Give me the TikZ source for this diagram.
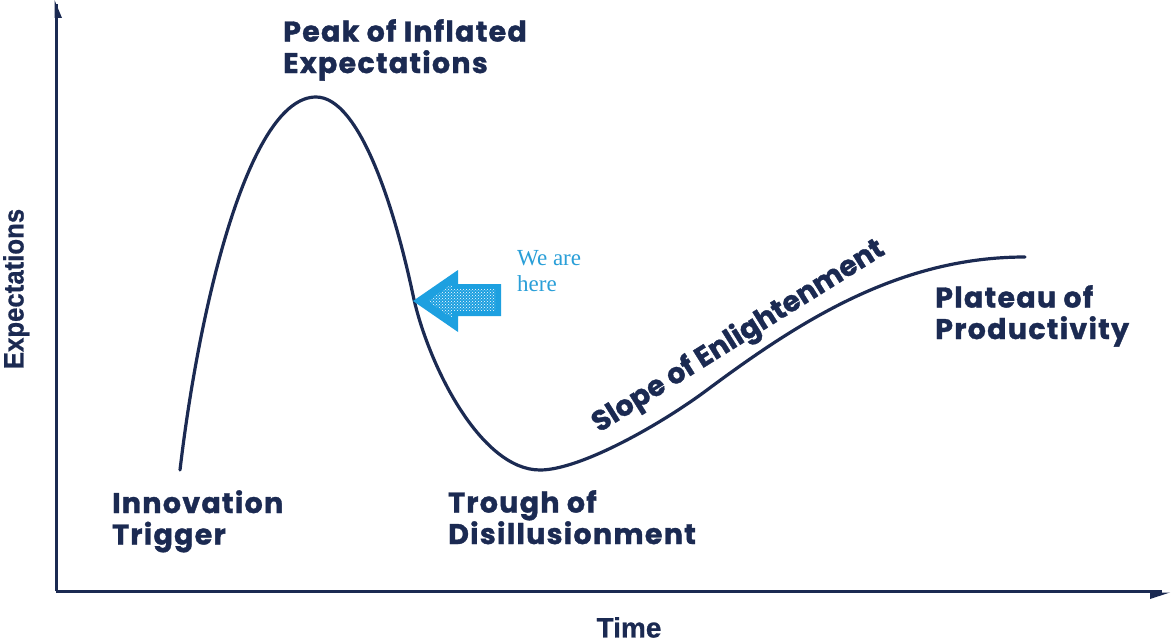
\documentclass[tikz,border=0pt]{standalone}
\usepackage{fontspec}
\setmainfont{Poppins}[BoldFeatures={FakeBold=1.2}]
\newfontfamily\stagefont{Poppins}[LetterSpace=4.5, BoldFeatures={FakeBold=1.2}]
\newfontfamily\axisfont{Liberation Sans}[BoldFeatures={FakeBold=0.8}]
\newfontfamily\notefont{Liberation Serif}
\usetikzlibrary{patterns}
\definecolor{navy}{HTML}{1B2A52}
\definecolor{skyblue}{HTML}{1DA0E0}
\definecolor{notecol}{HTML}{2A9FD8}
\tikzset{
  stage/.style={font=\stagefont\fontsize{28.5}{31.5}\selectfont\bfseries, text=navy, align=left, inner sep=0pt, anchor=north west},
  slopelabel/.style={font=\fontsize{28.5}{31.5}\selectfont\bfseries, text=navy, inner sep=0pt, anchor=base west},
  axislabel/.style={font=\axisfont\fontsize{28}{30}\selectfont\bfseries, text=navy, inner sep=0pt},
  axisline/.style={navy, line width=3pt},
  hype/.style={navy, line width=3.2pt, line cap=round, line join=round}
}
\begin{document}
\begin{tikzpicture}[x=1pt,y=-1pt]
\useasboundingbox (0,0) rectangle (1172,639);
\fill[white] (0,0) rectangle (1172,639);
% axes
\coordinate (O) at (56,591);
\coordinate (Ytop) at (56,4);
\coordinate (Xend) at (1162,591);
\draw[axisline] (O) -- (Ytop);
\draw[axisline] (O) -- (Xend);
\fill[navy] (54.5,0) -- (54.5,18) -- (62,18) -- cycle;
\fill[navy] (1170,592.5) -- (1150,592.5) -- (1150,599) -- cycle;
% curve
\draw[hype] (180,470) .. controls (200,300) and (250,97) .. (316,97)
  .. controls (360,97) and (395,210) .. (413,295)
  .. controls (427.4,363) and (480,470) .. (540,470)
  .. controls (580,470) and (660,425) .. (707,390)
  .. controls (801,320) and (900,257) .. (1025,257);
% labels
\node[stage] (peak) at (283,19) {Peak of Inflated\\Expectations};
\node[stage] (innov) at (112,490) {Innovation\\Trigger};
\node[stage] (trough) at (448,490) {Trough of\\Disillusionment};
\node[stage] (plateau) at (935,285) {Plateau of\\Productivity};
\node[slopelabel, rotate=32] (slope) at (599,433) {Slope of Enlightenment};
\node[axislabel, rotate=90, anchor=north] (ylab) at (3,289) {\scalebox{0.92}[1]{Expectations}};
\node[axislabel, anchor=north] (xlab) at (629,617) {Time};
% arrow
\fill[skyblue] (413,301) -- (458,270) -- (458,284) -- (501,284) -- (501,316) -- (458,316) -- (458,332) -- cycle;
\fill[pattern=crosshatch dots, pattern color=white] (428,301) -- (452,284) -- (452,289) -- (495,289) -- (495,311) -- (452,311) -- (452,318) -- cycle;
\node[font=\notefont\fontsize{23}{26}\selectfont, text=notecol, align=left, anchor=north west, inner sep=0pt] (here) at (517,250) {We are\\here};
\end{tikzpicture}
\end{document}
